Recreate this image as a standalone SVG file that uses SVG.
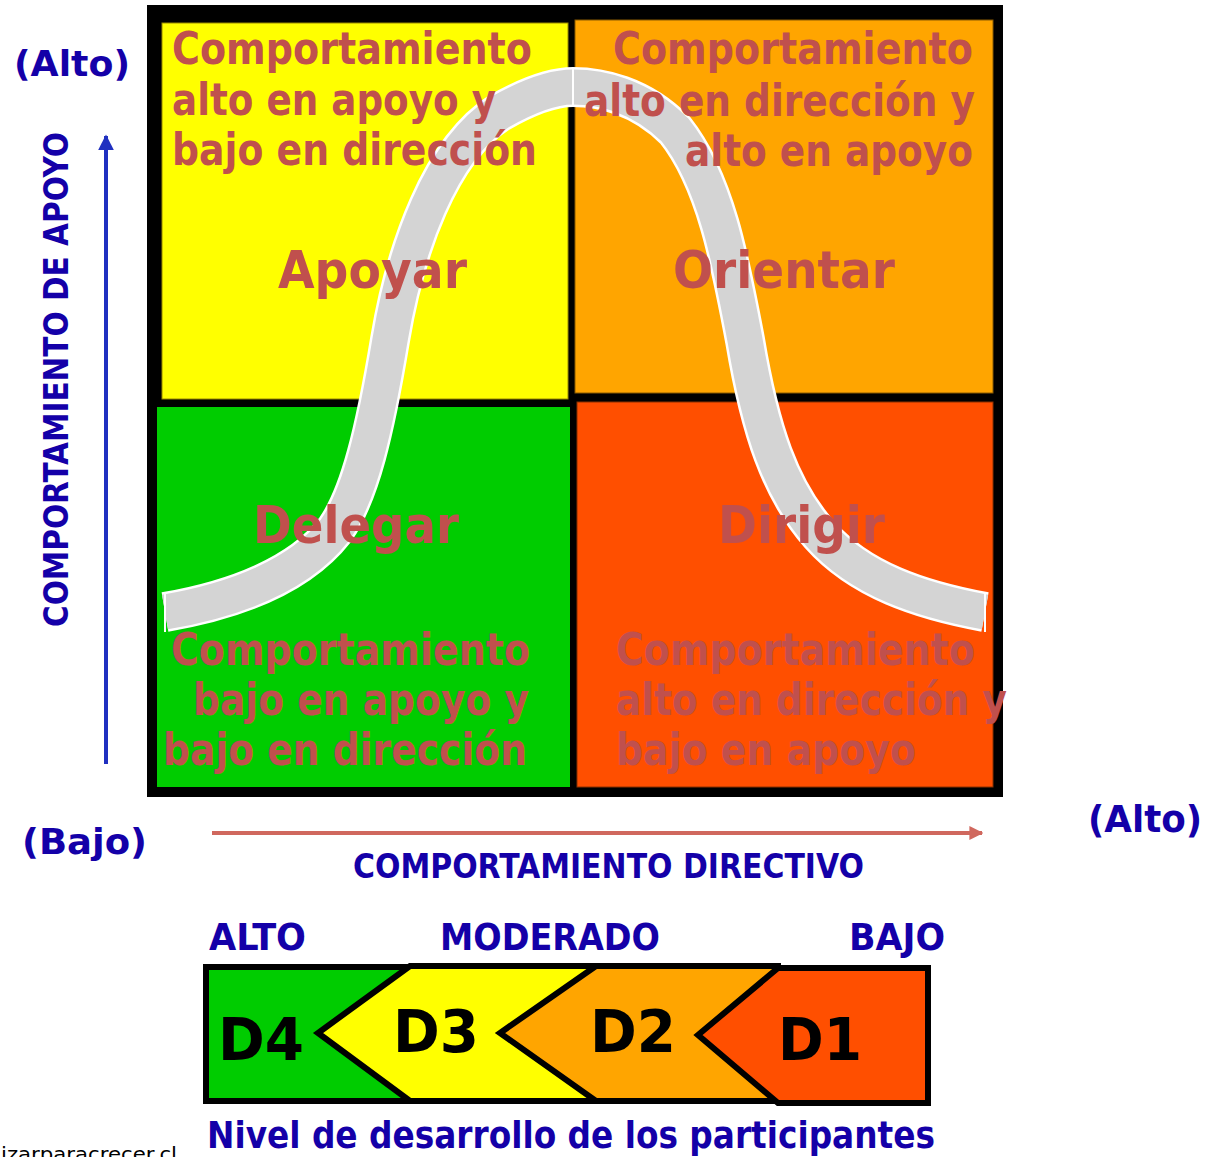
<svg xmlns="http://www.w3.org/2000/svg" width="1205" height="1157" viewBox="0 0 1205 1157">
<defs>
<style>
.q{font-family:"DejaVu Sans","Verdana",sans-serif;font-weight:bold;fill:#C0504D;font-size:44px}
.big{font-family:"DejaVu Sans","Verdana",sans-serif;font-weight:bold;fill:#C0504D;font-size:52px}
.ax{font-family:"DejaVu Sans","Verdana",sans-serif;font-weight:bold;fill:#1400A8;font-size:36px}
.cd{font-family:"DejaVu Sans Condensed","DejaVu Sans",sans-serif;font-weight:bold;fill:#1400A8}
.d{font-family:"DejaVu Sans","Verdana",sans-serif;font-weight:bold;fill:#000;font-size:58px}
.chev{stroke:#000;stroke-width:6;stroke-linejoin:miter}
</style>
<marker id="ahBlue" viewBox="0 0 10 10" refX="9" refY="5" markerWidth="4" markerHeight="4" orient="auto" markerUnits="strokeWidth">
<path d="M0,0 L10,5 L0,10 z" fill="#2030C0"/>
</marker>
<marker id="ahRed" viewBox="0 0 10 10" refX="9" refY="5" markerWidth="3.5" markerHeight="3.5" orient="auto" markerUnits="strokeWidth">
<path d="M0,0 L10,5 L0,10 z" fill="#D0685E"/>
</marker>
</defs>

<g id="matrix">
<rect x="147" y="5" width="856" height="792" fill="#000"/>
<rect id="q-apoyar" x="162" y="23" width="406" height="376" fill="#FFFF00" stroke="#9a8a00" stroke-width="1"/>
<rect id="q-orientar" x="575" y="20" width="418" height="373" fill="#FFA500" stroke="#8a5a00" stroke-width="1"/>
<rect id="q-delegar" x="157" y="407" width="413" height="380" fill="#00CC00"/>
<rect id="q-dirigir" x="577" y="402" width="416" height="385" fill="#FF4F00" stroke="#8a3000" stroke-width="1"/>
</g>

<g id="curve">
<path d="M165,612 C235,600 300,575 335,530 C360,495 375,430 390,340 C405,250 440,150 500,112 C530,95 555,87 573,87 C600,87 640,95 675,130 C715,180 730,260 745,340 C760,430 780,490 820,535 C860,580 920,600 985,612" fill="none" stroke="#FFFFFF" stroke-width="40"/>
<path d="M165,612 C235,600 300,575 335,530 C360,495 375,430 390,340 C405,250 440,150 500,112 C530,95 555,87 573,87 C600,87 640,95 675,130 C715,180 730,260 745,340 C760,430 780,490 820,535 C860,580 920,600 985,612" fill="none" stroke="#D4D4D4" stroke-width="35"/>
<line x1="573" y1="69" x2="573" y2="105" stroke="#FFFFFF" stroke-width="2"/>
<line x1="165" y1="593" x2="165" y2="632" stroke="#FFFFFF" stroke-width="2"/>
<line x1="985" y1="593" x2="985" y2="632" stroke="#FFFFFF" stroke-width="2"/>
</g>

<g id="text-apoyar">
<text class="q" x="172" y="64" textLength="360" lengthAdjust="spacingAndGlyphs">Comportamiento</text>
<text class="q" x="172" y="115" textLength="324" lengthAdjust="spacingAndGlyphs">alto en apoyo y</text>
<text class="q" x="172" y="165" textLength="365" lengthAdjust="spacingAndGlyphs">bajo en dirección</text>
<text class="big" x="278" y="288" textLength="189" lengthAdjust="spacingAndGlyphs">Apoyar</text>
</g>
<g id="text-orientar">
<text class="q" x="613" y="64" textLength="360" lengthAdjust="spacingAndGlyphs">Comportamiento</text>
<text class="q" x="584" y="116" textLength="391" lengthAdjust="spacingAndGlyphs">alto en dirección y</text>
<text class="q" x="685" y="166" textLength="288" lengthAdjust="spacingAndGlyphs">alto en apoyo</text>
<text class="big" x="673" y="288" textLength="222" lengthAdjust="spacingAndGlyphs">Orientar</text>
</g>
<g id="text-delegar">
<text class="big" x="253" y="543" textLength="206" lengthAdjust="spacingAndGlyphs">Delegar</text>
<text class="q" x="171" y="665" textLength="359" lengthAdjust="spacingAndGlyphs">Comportamiento</text>
<text class="q" x="193" y="715" textLength="336" lengthAdjust="spacingAndGlyphs">bajo en apoyo y</text>
<text class="q" x="163" y="765" textLength="364" lengthAdjust="spacingAndGlyphs">bajo en dirección</text>
</g>
<g id="text-dirigir">
<text class="big" x="718" y="543" textLength="167" lengthAdjust="spacingAndGlyphs">Dirigir</text>
<text class="q" x="616" y="665" textLength="359" lengthAdjust="spacingAndGlyphs">Comportamiento</text>
<text class="q" x="616" y="715" textLength="391" lengthAdjust="spacingAndGlyphs">alto en dirección y</text>
<text class="q" x="616" y="765" textLength="300" lengthAdjust="spacingAndGlyphs">bajo en apoyo</text>
</g>

<g id="connectors">
<line x1="106" y1="764" x2="106" y2="136" stroke="#2030C0" stroke-width="4" marker-end="url(#ahBlue)"/>
<line x1="212" y1="833" x2="982" y2="833" stroke="#D0685E" stroke-width="4" marker-end="url(#ahRed)"/>
</g>

<g id="axis-labels">
<text class="ax" x="14" y="76" textLength="116" lengthAdjust="spacingAndGlyphs">(Alto)</text>
<text class="ax" x="22" y="854" textLength="125" lengthAdjust="spacingAndGlyphs">(Bajo)</text>
<text class="cd" x="1088" y="832" font-size="38" textLength="114" lengthAdjust="spacingAndGlyphs">(Alto)</text>
<text class="cd" transform="translate(68,627) rotate(-90)" x="0" y="0" font-size="33" textLength="495" lengthAdjust="spacingAndGlyphs">COMPORTAMIENTO DE APOYO</text>
<text class="cd" x="353" y="878" font-size="34" textLength="511" lengthAdjust="spacingAndGlyphs">COMPORTAMIENTO DIRECTIVO</text>
</g>

<g id="levels">
<text class="cd" x="209" y="950" font-size="38" textLength="97" lengthAdjust="spacingAndGlyphs">ALTO</text>
<text class="cd" x="440" y="950" font-size="38" textLength="220" lengthAdjust="spacingAndGlyphs">MODERADO</text>
<text class="cd" x="849" y="950" font-size="38" textLength="96" lengthAdjust="spacingAndGlyphs">BAJO</text>
</g>

<g id="d4">
<rect class="chev" x="206" y="967" width="240" height="134" fill="#00CC00"/>
<text class="d" x="218" y="1060" textLength="86" lengthAdjust="spacingAndGlyphs">D4</text>
</g>
<g id="d3">
<polygon class="chev" points="410,966 598,966 598,1101 410,1101 318,1033" fill="#FFFF00"/>
<text class="d" x="393" y="1052" textLength="86" lengthAdjust="spacingAndGlyphs">D3</text>
</g>
<g id="d2">
<polygon class="chev" points="596,966 778,966 778,1101 596,1101 500,1033" fill="#FFA500"/>
<text class="d" x="590" y="1052" textLength="86" lengthAdjust="spacingAndGlyphs">D2</text>
</g>
<g id="d1">
<polygon class="chev" points="778,968 928,968 928,1103 778,1103 698,1035" fill="#FF4F00"/>
<text class="d" x="778" y="1060" textLength="84" lengthAdjust="spacingAndGlyphs">D1</text>
</g>

<text class="cd" x="207" y="1148" font-size="38" textLength="728" lengthAdjust="spacingAndGlyphs">Nivel de desarrollo de los participantes</text>
<text x="1" y="1161" font-family="DejaVu Sans, sans-serif" font-size="20" fill="#000" textLength="176" lengthAdjust="spacingAndGlyphs">izarparacrecer.cl</text>
</svg>
